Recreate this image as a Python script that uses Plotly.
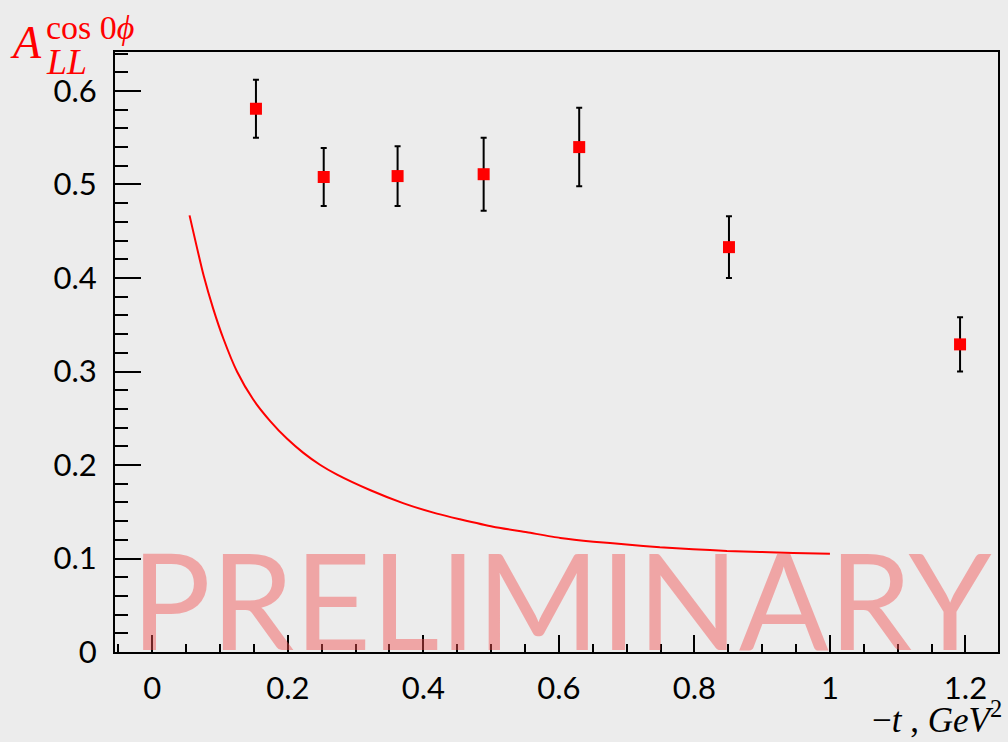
import plotly.graph_objects as go

# Data points
t_vals = [0.153, 0.253, 0.362, 0.489, 0.630, 0.851, 1.192]
all_vals = [0.581, 0.508, 0.509, 0.511, 0.540, 0.433, 0.329]
all_errs = [0.031, 0.031, 0.032, 0.039, 0.042, 0.033, 0.029]

# Model curve
curve_t = [0.055, 0.076, 0.090, 0.105, 0.125, 0.149, 0.174, 0.199, 0.223, 0.248,
           0.272, 0.322, 0.371, 0.420, 0.454, 0.503, 0.553, 0.602, 0.651, 0.700,
           0.749, 0.798, 0.848, 0.897, 0.946, 1.000]
curve_a = [0.467, 0.402, 0.367, 0.335, 0.300, 0.270, 0.247, 0.228, 0.213, 0.200,
           0.190, 0.173, 0.159, 0.148, 0.142, 0.134, 0.128, 0.122, 0.118, 0.115,
           0.112, 0.110, 0.108, 0.107, 0.106, 0.105]

x_ticks = [0, 0.2, 0.4, 0.6, 0.8, 1.0, 1.2]
x_ticklabels = ["0", "0.2", "0.4", "0.6", "0.8", "1", "1.2"]
y_ticks = [0, 0.1, 0.2, 0.3, 0.4, 0.5, 0.6]
y_ticklabels = ["0", "0.1", "0.2", "0.3", "0.4", "0.5", "0.6"]

BG = "#ececec"
L, R, T, B = 115, 10, 52, 90

fig = go.Figure()
fig.add_trace(go.Scatter(x=curve_t, y=curve_a, mode="lines",
                         line=dict(color="#ff0000", width=2, shape="spline", smoothing=0.6),
                         showlegend=False, hoverinfo="skip"))
fig.add_trace(go.Scatter(x=t_vals, y=all_vals, mode="markers",
                         marker=dict(symbol="square", size=12, color="#ff0000"),
                         error_y=dict(type="data", array=all_errs, color="black",
                                      thickness=2, width=3),
                         showlegend=False))

fig.update_layout(
    width=1008, height=742,
    margin=dict(l=L, r=R, t=T, b=B, pad=0),
    paper_bgcolor=BG, plot_bgcolor=BG,
    font=dict(family="Lato", color="black"),
)
fig.update_xaxes(range=[-0.055, 1.248], tickvals=x_ticks, ticktext=x_ticklabels,
                 ticks="inside", ticklen=17, tickwidth=2, tickcolor="black",
                 minor=dict(dtick=0.05, tick0=0, ticks="inside", ticklen=8,
                            tickwidth=2, tickcolor="black"),
                 showline=True, linewidth=2, linecolor="black", mirror=True,
                 showgrid=False, zeroline=False, ticklabelstandoff=8, automargin=False,
                 tickfont=dict(family="Lato", size=31, color="black"))
fig.update_yaxes(range=[0, 0.6417], tickvals=y_ticks, ticktext=y_ticklabels,
                 ticks="inside", ticklen=26, tickwidth=2, tickcolor="black",
                 minor=dict(dtick=0.02, tick0=0, ticks="inside", ticklen=13,
                            tickwidth=2, tickcolor="black"),
                 showline=True, linewidth=2, linecolor="black", mirror=True,
                 showgrid=False, zeroline=False, ticklabelstandoff=10, automargin=False,
                 tickfont=dict(family="Lato", size=31, color="black"))

def px_ann(text, X, Y, size, xanchor="left", yanchor="middle", family="Liberation Serif",
           color="#ff0000"):
    fig.add_annotation(text=text, xref="paper", yref="paper", x=0, y=1,
                       xshift=X - L, yshift=T - Y, xanchor=xanchor, yanchor=yanchor,
                       showarrow=False, font=dict(family=family, size=size, color=color))

# y-axis title A_LL^{cos 0phi}
px_ann("<i>A</i>", 8, 42, 46)
px_ann("cos 0<i>ϕ</i>", 44, 27, 34)
px_ann("<i>LL</i>", 44, 62, 36)
# x-axis title
px_ann("−<i>t</i>&nbsp;, <i>GeV</i><sup>2</sup>", 1004, 742, 35, xanchor="right",
       yanchor="bottom", color="black")

# PRELIMINARY watermark
fig.add_annotation(text="PRELIMINARY", xref="paper", yref="paper", x=0, y=0,
                   xshift=561 - L, yshift=652 - 598, xanchor="center", yanchor="middle",
                   showarrow=False,
                   font=dict(family="Lato", size=133, color="rgba(245,80,80,0.45)"))

fig.write_html("out.html", config={"displayModeBar": False},
               post_script="document.body.style.margin='0px';"
                           "document.body.style.padding='0px';"
                           "document.body.style.overflow='hidden';")
